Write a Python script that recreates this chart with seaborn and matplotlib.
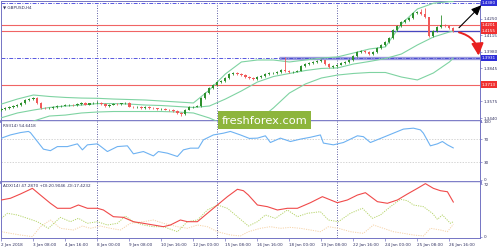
import numpy as np
import pandas as pd
import matplotlib
matplotlib.use("Agg")
import matplotlib.pyplot as plt
import matplotlib.transforms as mtransforms
from matplotlib.patches import Rectangle
import seaborn as sns

# ---------------- data ----------------
first_open = 1.3505
closes = [1.3514, 1.3522, 1.3530, 1.3538, 1.3546, 1.3563, 1.3587, 1.3595, 1.3603, 1.3563,
          1.3522, 1.3518, 1.3522, 1.3530, 1.3538, 1.3542, 1.3546, 1.3550, 1.3548, 1.3554,
          1.3563, 1.3550, 1.3559, 1.3563, 1.3566, 1.3554, 1.3538, 1.3550, 1.3554, 1.3552,
          1.3559, 1.3563, 1.3534, 1.3526, 1.3530, 1.3522, 1.3530, 1.3522, 1.3518, 1.3514,
          1.3516, 1.3509, 1.3505, 1.3497, 1.3481, 1.3469, 1.3509, 1.3530, 1.3534, 1.3538,
          1.3603, 1.3644, 1.3685, 1.3710, 1.3734, 1.3742, 1.3767, 1.3800, 1.3808, 1.3800,
          1.3791, 1.3775, 1.3767, 1.3759, 1.3775, 1.3783, 1.3800, 1.3804, 1.3808, 1.3816,
          1.3832, 1.3824, 1.3816, 1.3820, 1.3828, 1.3865, 1.3881, 1.3890, 1.3898, 1.3906,
          1.3914, 1.3881, 1.3857, 1.3865, 1.3877, 1.3890, 1.3894, 1.3914, 1.3947, 1.3979,
          1.3988, 1.3979, 1.3963, 1.3979, 1.4012, 1.4037, 1.4061, 1.4094, 1.4159, 1.4192,
          1.4225, 1.4241, 1.4257, 1.4298, 1.4306, 1.4290, 1.4262, 1.4110, 1.4151, 1.4184,
          1.4200, 1.4192, 1.4176, 1.4151]
highs = [1.3522, 1.3530, 1.3538, 1.3546, 1.3556, 1.3572, 1.3596, 1.3604, 1.3612, 1.3608,
         1.3570, 1.3530, 1.3531, 1.3538, 1.3546, 1.3550, 1.3555, 1.3558, 1.3557, 1.3562,
         1.3571, 1.3568, 1.3566, 1.3571, 1.3575, 1.3570, 1.3560, 1.3557, 1.3561, 1.3560,
         1.3566, 1.3572, 1.3568, 1.3540, 1.3537, 1.3536, 1.3537, 1.3536, 1.3528, 1.3524,
         1.3523, 1.3522, 1.3515, 1.3510, 1.3502, 1.3488, 1.3514, 1.3536, 1.3541, 1.3546,
         1.3610, 1.3652, 1.3692, 1.3718, 1.3741, 1.3752, 1.3775, 1.3808, 1.3818, 1.3815,
         1.3807, 1.3797, 1.3782, 1.3772, 1.3782, 1.3790, 1.3808, 1.3812, 1.3815, 1.3824,
         1.3840, 1.3939, 1.3830, 1.3826, 1.3835, 1.3873, 1.3889, 1.3897, 1.3905, 1.3913,
         1.3922, 1.3918, 1.3886, 1.3872, 1.3884, 1.3897, 1.3902, 1.3921, 1.3955, 1.3987,
         1.3996, 1.3994, 1.3984, 1.3986, 1.4020, 1.4045, 1.4069, 1.4102, 1.4167, 1.4200,
         1.4233, 1.4249, 1.4265, 1.4306, 1.4316, 1.4330, 1.4337, 1.4268, 1.4160, 1.4192,
         1.4282, 1.4205, 1.4198, 1.4182]
lows = [1.3497, 1.3507, 1.3515, 1.3523, 1.3531, 1.3540, 1.3557, 1.3580, 1.3588, 1.3556,
        1.3514, 1.3510, 1.3511, 1.3515, 1.3523, 1.3531, 1.3535, 1.3539, 1.3541, 1.3542,
        1.3548, 1.3543, 1.3544, 1.3552, 1.3556, 1.3547, 1.3530, 1.3531, 1.3543, 1.3545,
        1.3546, 1.3552, 1.3527, 1.3518, 1.3520, 1.3515, 1.3516, 1.3514, 1.3511, 1.3507,
        1.3508, 1.3502, 1.3497, 1.3489, 1.3474, 1.3460, 1.3463, 1.3502, 1.3524, 1.3528,
        1.3532, 1.3596, 1.3637, 1.3676, 1.3702, 1.3726, 1.3735, 1.3760, 1.3792, 1.3793,
        1.3784, 1.3768, 1.3759, 1.3751, 1.3752, 1.3768, 1.3776, 1.3793, 1.3797, 1.3801,
        1.3809, 1.3816, 1.3809, 1.3810, 1.3814, 1.3821, 1.3858, 1.3874, 1.3883, 1.3891,
        1.3899, 1.3874, 1.3849, 1.3850, 1.3858, 1.3870, 1.3883, 1.3887, 1.3907, 1.3940,
        1.3972, 1.3972, 1.3956, 1.3957, 1.3972, 1.4005, 1.4030, 1.4054, 1.4087, 1.4152,
        1.4185, 1.4218, 1.4234, 1.4250, 1.4291, 1.4282, 1.4255, 1.4100, 1.4104, 1.4144,
        1.4176, 1.4185, 1.4168, 1.4144]

band_bars = [0, 4, 8, 12, 16, 20, 24, 28, 32, 36, 40, 44, 48, 52, 56, 60, 64, 68, 72,
             76, 80, 84, 88, 92, 96, 100, 104, 108, 112, 113]
bb_upper = [1.3554, 1.3595, 1.3628, 1.3616, 1.3608, 1.3603, 1.3601, 1.3595, 1.3591, 1.3587,
            1.3579, 1.3571, 1.3563, 1.3669, 1.3800, 1.3898, 1.3914, 1.3914, 1.3898, 1.3914,
            1.3930, 1.3939, 1.3971, 1.4004, 1.4021, 1.4208, 1.4331, 1.4378, 1.4391, 1.4392]
bb_middle = [1.3442, 1.3481, 1.3505, 1.3526, 1.3538, 1.3546, 1.3558, 1.3558, 1.3554, 1.3546,
             1.3542, 1.3534, 1.3526, 1.3538, 1.3595, 1.3661, 1.3734, 1.3779, 1.3804, 1.3828,
             1.3845, 1.3849, 1.3881, 1.3902, 1.3926, 1.3963, 1.4037, 1.4102, 1.4143, 1.4151]
bb_lower = [1.3334, 1.3366, 1.3415, 1.3456, 1.3464, 1.3481, 1.3489, 1.3493, 1.3493, 1.3493,
            1.3493, 1.3489, 1.3481, 1.3440, 1.3383, 1.3358, 1.3415, 1.3522, 1.3644, 1.3718,
            1.3767, 1.3791, 1.3804, 1.3812, 1.3812, 1.3775, 1.3751, 1.3808, 1.3898, 1.3930]

rsi_bars = [0, 2.25, 4.75, 6.75, 7.25, 9, 10.5, 12.25, 14, 16.5, 19, 20.25, 21.5, 24, 26.5,
            29, 31.5, 33, 35.5, 38, 39.25, 41.5, 44, 45.5, 47.25, 49.25, 50.5, 53, 55.5,
            57.25, 59.75, 62, 64, 66, 67.25, 69.75, 72.25, 74.75, 77.25, 79.75, 80.5, 83,
            85.5, 89, 90.5, 92.25, 95.5, 98, 100.5, 103, 104.75, 105.5, 107.25, 109, 110.25,
            111.5, 113]
rsi_vals = [71.5, 77, 81, 83, 81, 65.7, 52.6, 50, 57, 57, 61.7, 51.4, 60, 61.7, 48.5,
            57, 58.3, 44.6, 48.5, 41, 48.5, 45.7, 40, 51.4, 54.3, 54.3, 68.6, 77, 80,
            83, 77, 71, 71.5, 75.5, 64, 71.5, 65.7, 69.8, 73, 77, 63, 60,
            64, 75.5, 74, 64, 73, 80, 87, 88.6, 85.7, 80, 58.3, 61.7, 65.7,
            60, 54.64]

adx_bars = [0, 2.25, 4.75, 7.75, 9.75, 12.25, 14, 17.25, 19.25, 21.5, 24, 25.5, 28, 30.5,
            33, 35.5, 38, 40.5, 42.25, 44.75, 46.5, 49, 51.5, 54, 56.5, 59, 60.5, 61.75,
            64, 66.5, 69, 71.5, 74, 77.25, 80.25, 84, 86.5, 89, 91, 94, 96.5, 99, 101.5,
            104, 106, 108, 109.75, 111.5, 113]
adx_vals = [50.3, 52.6, 58.4, 66.1, 57, 45.8, 39, 39, 43.5, 39, 39, 36.7, 27.6, 26.7,
            20.8, 18.6, 16.3, 14, 16.3, 23.1, 20.8, 20.8, 32.2, 43.5, 54.8, 64.8, 62.9, 57,
            43.5, 41.2, 36.7, 39, 39, 46.6, 54.8, 46.6, 50.3, 57, 60.2, 48, 45.8, 50.3, 58.4,
            66.1, 72.5, 66.1, 62.9, 61.5, 47.29]
pdi_bars = [0, 1.5, 4, 6.5, 9, 11.75, 14.75, 17.25, 19.25, 21.5, 24, 26.5, 29, 31, 33,
            35.5, 38, 40.5, 44, 46.5, 49, 51.5, 54, 56.5, 59, 61.75, 64, 66, 68.5, 71.5,
            74, 76.5, 79.75, 81.75, 84.25, 87.25, 90.25, 92.75, 94.75, 97.25, 99.75, 101.5,
            103, 105.5, 107.75, 109, 110.25, 112.25, 113]
pdi_vals = [25.4, 32.2, 29.9, 25.4, 20.8, 11.8, 26.7, 20.8, 25.4, 18.6, 20.8, 16.3, 18.6,
            28.5, 20.8, 16.3, 14, 14, 7.2, 20.8, 23.1, 36.7, 43.5, 39, 27.6, 14.9, 20.8,
            29.9, 25.4, 36.7, 27.6, 32.2, 34.4, 23.1, 20.8, 32.2, 39, 25.4, 29.9, 41.2,
            51.2, 49.3, 43.5, 41.2, 32.2, 24, 29.9, 18.6, 20.9]
mdi_bars = [0, 2.25, 4.75, 7.75, 9.75, 12.25, 14.75, 18, 20.25, 22.25, 24.75, 27.25, 29.75,
            32.25, 35.5, 38, 40.5, 44, 46.5, 49, 51.5, 54, 57.25, 59.75, 61.75, 64.75,
            67.25, 69.75, 72.25, 74.75, 77.25, 79.75, 81.75, 84.25, 87.25, 90.5, 93, 95.5,
            98, 100.5, 103, 105.5, 107.25, 109.75, 111.5, 113]
mdi_vals = [7.2, 5, 2.7, 0.5, 14, 23.1, 11.8, 9.5, 14.9, 11.8, 14.9, 11.8, 9.5, 18.6, 20.8,
            23.1, 18.6, 14, 11.8, 16.3, 14, 7.2, 2.7, 1.4, 7.2, 11.8, 14, 11.8, 13.1, 11.8,
            9.5, 7.2, 14, 11.8, 7.2, 5, 16.3, 11.8, 7.2, 5, 2.7, 1.4, 11.8, 9.5, 7.2, 17.4]

time_tick_bars = [0, 8, 16, 24, 32, 40, 48, 56, 64, 72, 80, 88, 96, 104, 112]
time_labels = ["2 Jan 2018", "3 Jan 08:00", "4 Jan 16:00", "8 Jan 00:00", "9 Jan 08:00",
               "10 Jan 16:00", "12 Jan 00:00", "15 Jan 08:00", "16 Jan 16:00",
               "18 Jan 00:00", "19 Jan 08:00", "22 Jan 16:00", "24 Jan 00:00",
               "25 Jan 08:00", "26 Jan 16:00"]
week_start_bars = [24, 54, 84]
price_ticks = [1.4250, 1.4115, 1.3980, 1.3845, 1.3575, 1.3440]
red_levels = [1.4201, 1.4155, 1.3713]
blue_levels = [1.4380, 1.3931]
rsi_levels = [70, 30]

# ---------------- style ----------------
sns.set_theme(style="white")
plt.rcParams['font.family'] = ['DejaVu Sans']
FRAME = '#7474c4'
TXT = '#303060'
UP = '#2e912e'
DN = '#f05a5a'
BB = '#7fd3a2'
RED = '#f06464'
BLUE = '#5656e0'
FS = 3.0

fig = plt.figure(figsize=(5, 2.5), dpi=100)
fig.patch.set_facecolor('white')
W, H = 500.0, 250.0

def add_ax(y_top, y_bot):
    return fig.add_axes([1 / W, 1 - y_bot / H, 479 / W, (y_bot - y_top) / H])

ax = add_ax(1, 121)
ax_r = add_ax(121, 181.5)
ax_a = add_ax(181.5, 238)
XL = (-0.1, 119.65)
for a in (ax, ax_r, ax_a):
    a.set_xlim(*XL)
    a.set_facecolor('white')
    for s in a.spines.values():
        s.set_color(FRAME)
        s.set_linewidth(0.7)
    a.set_xticks([])
    a.tick_params(axis='y', which='both', right=True, left=False, labelright=True,
                  labelleft=False, length=1.5, width=0.5, color=FRAME, labelsize=FS,
                  labelcolor=TXT, pad=1)
    for b in week_start_bars:
        a.axvline(b, color='#4a4a9a', lw=0.6, ls=(0, (1.2, 1.8)), zorder=1)

ax.spines['bottom'].set_linewidth(2.0)
ax_r.spines['bottom'].set_linewidth(2.0)
ax_r.spines['top'].set_linewidth(0.3)
ax_a.spines['top'].set_linewidth(0.3)

# ---------------- main price pane ----------------
n = len(closes)
bars = np.arange(n)
opens = [first_open] + closes[:-1]
df = pd.DataFrame({'bar': bars, 'open': opens, 'high': highs, 'low': lows, 'close': closes})
df['up'] = df['close'] >= df['open']

ax.set_ylim(1.34155, 1.43963)
ax.set_yticks(price_ticks)
ax.set_yticklabels([f"{v:.4f}" for v in price_ticks])

for lv in red_levels:
    ax.axhline(lv, color=RED, lw=0.8, zorder=2)
for lv in blue_levels:
    ax.axhline(lv, color=BLUE, lw=0.7, ls=(0, (4, 1.5, 1, 1.5)), zorder=2)
ax.plot([69.5, 119.65], [1.3931, 1.3931], color='#4848c8', lw=2.4, alpha=0.55,
        solid_capstyle='butt', zorder=2)
ax.plot([97.5, 119.65], [1.4155, 1.4155], color='#4646c0', lw=0.9, zorder=2)

bands = pd.DataFrame({'bar': band_bars, 'upper': bb_upper, 'middle': bb_middle,
                      'lower': bb_lower})
for col in ['upper', 'middle', 'lower']:
    sns.lineplot(data=bands, x='bar', y=col, ax=ax, color=BB, lw=0.8, legend=False,
                 zorder=3)

for up, col in [(True, UP), (False, DN)]:
    d = df[df['up'] == up]
    ax.vlines(d['bar'], d['low'], d['high'], color=col, lw=0.6, zorder=4)
    body_lo = np.minimum(d['open'], d['close'])
    body_h = np.maximum(np.abs(d['close'] - d['open']), 0.00018)
    ax.bar(d['bar'], body_h, bottom=body_lo, width=0.55, color=col, lw=0, zorder=4)
ax.set_xlabel('')
ax.set_ylabel('')

ax.text(0.5, 1.4345, "\u25BC GBPUSD,H4", fontsize=FS, color=TXT, va='center', ha='left',
        zorder=6)

trans = mtransforms.blended_transform_factory(ax.transAxes, ax.transData)
box_specs = [(1.4380, '#2e2ed8'), (1.4201, '#f03030'), (1.4155, '#f03030'),
             (1.3931, '#2e2ed8'), (1.3713, '#f03030')]
for lv, fc in box_specs:
    ax.text(1.004, lv, f"{lv:.4f}", transform=trans, fontsize=FS, color='white',
            va='center', ha='left', clip_on=False, zorder=10,
            bbox=dict(boxstyle='square,pad=0.3', fc=fc, ec='none'))

# arrows
ax.annotate('', xy=(120.0, 1.4362), xytext=(114.4, 1.4178),
            arrowprops=dict(arrowstyle='-|>,head_length=0.5,head_width=0.22', color='black',
                            lw=0.8, shrinkA=0, shrinkB=0),
            annotation_clip=False, zorder=9)
ax.annotate('', xy=(119.3, 1.3950), xytext=(114.4, 1.4140),
            arrowprops=dict(arrowstyle='-|>,head_length=0.6,head_width=0.3', color='#e82020',
                            lw=1.4, shrinkA=0, shrinkB=0,
                            connectionstyle='arc3,rad=-0.35'),
            annotation_clip=False, zorder=9)

# ---------------- RSI pane ----------------
ax_r.set_ylim(-2.9, 100.9)
for lv in rsi_levels:
    ax_r.axhline(lv, color='#c4c4c4', lw=0.5, ls=(0, (2, 2)), zorder=1)
rsi = pd.DataFrame({'bar': rsi_bars, 'rsi': rsi_vals})
sns.lineplot(data=rsi, x='bar', y='rsi', ax=ax_r, color='#6eb2f2', lw=0.8, legend=False,
             zorder=3)
ax_r.set_xlabel('')
ax_r.set_ylabel('')
ax_r.set_yticks([100, 70, 30, 0])
ax_r.set_yticklabels(['100', '70', '30', '0'])
ax_r.text(0.5, 93, "RSI(14) 54.6418", fontsize=FS, color=TXT, va='center', ha='left')

# ---------------- ADX pane ----------------
ax_a.set_ylim(-1.36, 75.4)
adx = pd.DataFrame({'bar': adx_bars, 'adx': adx_vals})
pdi = pd.DataFrame({'bar': pdi_bars, 'pdi': pdi_vals})
mdi = pd.DataFrame({'bar': mdi_bars, 'mdi': mdi_vals})
sns.lineplot(data=mdi, x='bar', y='mdi', ax=ax_a, color='#f6d3a8', lw=0.7,
             ls=(0, (1.2, 1.2)), legend=False, zorder=2)
sns.lineplot(data=pdi, x='bar', y='pdi', ax=ax_a, color='#b6d46a', lw=0.7,
             ls=(0, (1.2, 1.2)), legend=False, zorder=2)
sns.lineplot(data=adx, x='bar', y='adx', ax=ax_a, color='#f04a4a', lw=0.8, legend=False,
             zorder=3)
ax_a.set_xlabel('')
ax_a.set_ylabel('')
ax_a.set_yticks([72, 0])
ax_a.set_yticklabels(['72', '0'])
ax_a.text(0.5, 69, "ADX(14) 47.2870 +DI:20.9046 -DI:17.4232", fontsize=FS, color=TXT,
          va='center', ha='left')

ax_a.set_xticks(time_tick_bars)
ax_a.set_xticklabels(time_labels, ha='left')
ax_a.tick_params(axis='x', bottom=True, length=2, width=0.5, color=FRAME, labelsize=FS,
                 labelcolor=TXT, pad=1.5)
for lab in ax_a.get_xticklabels():
    lab.set_horizontalalignment('left')

# ---------------- watermark ----------------
fig.patches.append(Rectangle((218 / W, 1 - 129 / H), 93 / W, 18 / H, transform=fig.transFigure,
                             facecolor='#8db53c', edgecolor='none', zorder=20))
fig.text(264.5 / W, 1 - 121.5 / H, "freshforex.com", fontsize=8.2, color='white',
         ha='center', va='center', zorder=21)

fig.savefig('out.png', dpi=100, facecolor='white')
